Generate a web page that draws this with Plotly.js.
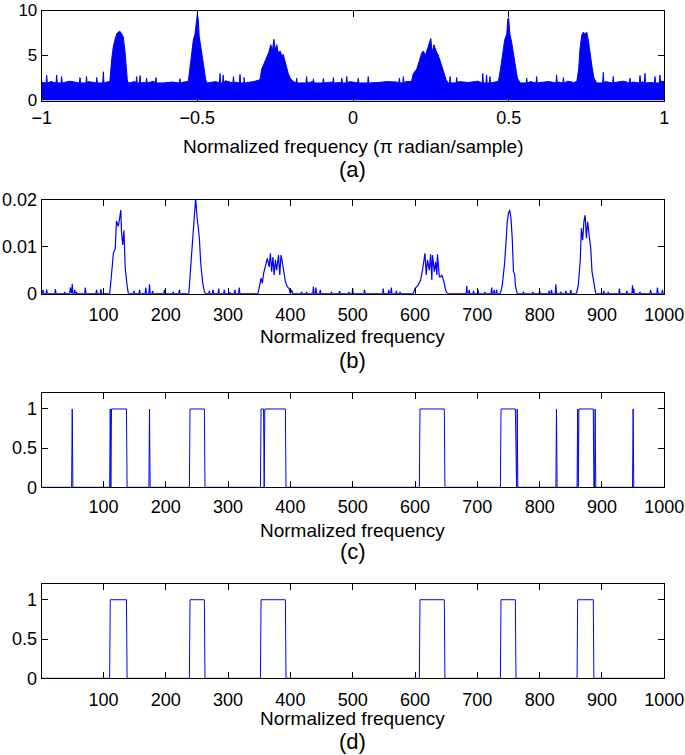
<!DOCTYPE html>
<html>
<head>
<meta charset="utf-8">
<script src="https://cdn.plot.ly/plotly-3.0.1.min.js"></script>
<style>
    body { margin: 0; background: #fff; }
    #plotDiv { width: 685px; height: 755px; }
</style>
</head>
<body>
<div id="plotDiv"></div>
<script>
//--- BEGIN DATA ---------------------------------------------------------------
// (a) spectrum envelope (top of the dense blue area), pi radian/sample
const aFreq = [
    -1.000, -0.970, -0.940, -0.910, -0.880, -0.850, -0.820, -0.790,
    -0.781, -0.775, -0.770, -0.765, -0.759, -0.754, -0.749, -0.743, -0.738, -0.732, -0.729, -0.725, -0.722,
    -0.700, -0.670, -0.640, -0.610, -0.580, -0.550,
    -0.529, -0.524, -0.518, -0.513, -0.508, -0.502, -0.500, -0.497, -0.494, -0.489, -0.484, -0.479, -0.473, -0.470,
    -0.440, -0.410, -0.380, -0.350, -0.320,
    -0.299, -0.293, -0.286, -0.277, -0.271, -0.264, -0.259, -0.254, -0.250, -0.245, -0.240, -0.234, -0.229,
    -0.224, -0.218, -0.213, -0.208, -0.202, -0.192,
    -0.160, -0.130, -0.100, -0.070, -0.040, -0.010, 0.020, 0.050, 0.080, 0.110, 0.140, 0.170,
    0.188, 0.194, 0.205, 0.215, 0.221, 0.226, 0.232, 0.239, 0.245, 0.250, 0.254, 0.260, 0.267, 0.273,
    0.280, 0.286, 0.292, 0.299, 0.306,
    0.340, 0.370, 0.400, 0.430, 0.455,
    0.467, 0.474, 0.481, 0.487, 0.494, 0.497, 0.500, 0.504, 0.510, 0.515, 0.522, 0.528, 0.537,
    0.570, 0.600, 0.630, 0.660, 0.690, 0.710,
    0.719, 0.725, 0.729, 0.735, 0.740, 0.745, 0.751, 0.756, 0.761, 0.768, 0.774, 0.783,
    0.810, 0.840, 0.870, 0.900, 0.930, 0.960, 0.990, 1.000
];
const aMag = [
    2.00, 2.10, 1.95, 2.15, 2.00, 2.10, 1.95, 2.05,
    2.13, 4.6, 6.0, 6.7, 7.4, 7.6, 7.7, 7.4, 7.1, 5.3, 3.5, 2.3, 1.95,
    2.10, 2.00, 2.15, 1.95, 2.05, 2.00,
    2.13, 3.5, 5.7, 6.7, 7.3, 9.2, 9.6, 9.0, 7.1, 6.0, 4.8, 3.5, 2.3, 1.95,
    2.10, 2.20, 2.05, 2.20, 2.10,
    2.30, 3.5, 4.1, 4.8, 5.3, 6.2, 5.5, 6.8, 5.6, 6.2, 5.3, 5.5, 5.0,
    5.1, 4.3, 3.5, 3.0, 2.5, 2.13,
    2.00, 2.10, 1.95, 2.05, 2.00, 2.10, 1.95, 2.05, 2.00, 2.10, 2.05, 2.10,
    2.13, 3.0, 3.5, 4.8, 5.3, 5.5, 5.0, 5.7, 6.4, 6.9, 5.3, 6.2, 5.5, 5.1,
    4.4, 3.7, 3.0, 2.3, 1.95,
    2.10, 2.00, 2.15, 2.10, 2.00,
    2.13, 3.5, 5.0, 6.7, 7.4, 9.0, 9.2, 7.4, 6.4, 5.3, 3.7, 2.5, 1.95,
    2.10, 2.00, 2.10, 2.05, 2.15, 2.00,
    2.13, 3.5, 5.7, 7.3, 7.6, 7.4, 7.6, 6.7, 5.3, 3.7, 2.5, 1.95,
    2.10, 2.00, 2.15, 2.05, 2.10, 2.00, 2.15, 2.10
];
// (a) single tall lines sticking out of the noise floor
const aSpikeFreq = [
    -0.984, -0.952, -0.936, -0.877, -0.856, -0.823, -0.802, -0.695, -0.684, -0.663, -0.633, -0.556,
    -0.427, -0.417, -0.384, -0.363, -0.350, -0.181, -0.149, -0.127, -0.095, -0.063, -0.036, -0.020,
    0.017, 0.049, 0.149, 0.162, 0.312, 0.333, 0.417, 0.429, 0.440, 0.558, 0.590, 0.654,
    0.676, 0.804, 0.836, 0.890, 0.922, 0.938, 0.970, 0.986
];
const aSpikeMag = [
    2.80, 2.84, 2.66, 2.55, 2.66, 2.55, 3.19, 2.66, 2.77, 2.48, 2.55, 2.41,
    3.00, 2.84, 2.66, 2.90, 2.55, 2.48, 2.66, 2.41, 2.48, 2.55, 2.48, 2.66,
    2.48, 2.66, 2.48, 2.66, 2.66, 2.55, 3.00, 2.84, 2.66, 2.48, 2.66, 2.84,
    2.55, 3.12, 2.66, 2.48, 2.77, 3.00, 2.66, 2.84
];

// (b) the six bands
const bBandFreq = [
    110, 112, 116, 119, 121, 124, 126, 128, 129, 131, 133, 135, 138, 140,
    237, 239, 242, 245, 247, 248, 250, 252, 254, 256, 259, 262, 264,
    348, 353, 355, 357, 360, 363, 366, 368, 370, 372, 374, 376, 378, 381, 383, 385, 387, 389, 392, 395, 398, 400, 402, 404,
    597, 600, 605, 609, 612, 614, 616, 618, 620, 623, 625, 627, 628, 631, 633, 635, 636, 639, 641, 643, 645, 647, 649, 652,
    737, 740, 744, 746, 748, 750, 752, 754, 756, 758, 760, 761, 764,
    859, 862, 865, 867, 869, 871, 873, 875, 877, 880, 882, 884, 886, 888, 890
];
const bBandMag = [
    0, 0.0026, 0.0086, 0.0096, 0.0155, 0.0143, 0.0167, 0.0178, 0.0132, 0.0104, 0.0135, 0.0054, 0.0018, 0,
    0, 0.0040, 0.0086, 0.0139, 0.0189, 0.0203, 0.0167, 0.0146, 0.0118, 0.0068, 0.0026, 0.0004, 0,
    0, 0.0033, 0.0022, 0.0043, 0.0057, 0.0075, 0.0057, 0.0086, 0.0047, 0.0078, 0.0040, 0.0072, 0.0050, 0.0082, 0.0040, 0.0082, 0.0068, 0.0047, 0.0026, 0.0015, 0.0011, 0, 0.0008, 0,
    0, 0.0011, 0.0018, 0.0029, 0.0050, 0.0075, 0.0086, 0.0040, 0.0072, 0.0050, 0.0084, 0.0029, 0.0082, 0.0047, 0.0068, 0.0040, 0.0084, 0.0036, 0.0036, 0.0040, 0.0033, 0.0022, 0.0008, 0,
    0, 0.0018, 0.0068, 0.0118, 0.0153, 0.0171, 0.0178, 0.0160, 0.0118, 0.0047, 0.0040, 0.0018, 0,
    0, 0.0018, 0.0068, 0.0139, 0.0114, 0.0153, 0.0167, 0.0118, 0.0153, 0.0118, 0.0096, 0.0047, 0.0033, 0.0018, 0
];
// (b) small noise spikes between the bands
const bNoiseFreq = [
    3, 9, 23, 38, 47, 50, 54, 57, 71, 89, 96, 149, 158, 168, 174, 179, 198, 212, 222, 270, 276, 285, 294,
    303, 311, 318, 418, 426, 437, 441, 448, 466, 479, 494, 500, 519, 549, 558, 562, 570, 576, 683, 687,
    694, 701, 712, 723, 727, 731, 774, 789, 800, 815, 819, 826, 834, 842, 850, 903, 910, 928, 940, 949,
    951, 961, 978, 989, 997
];
const bNoiseMag = [
    0.0008, 0.0009, 0.0010, 0.0004, 0.0013, 0.0021, 0.0008, 0.0004, 0.0013, 0.0008, 0.0010, 0.0006, 0.0008, 0.0013, 0.0020, 0.0006, 0.0008, 0.0004, 0.0008, 0.0006, 0.0008, 0.0011, 0.0008,
    0.0004, 0.0008, 0.0013, 0.0004, 0.0004, 0.0015, 0.0013, 0.0008, 0.0004, 0.0006, 0.0004, 0.0011, 0.0008, 0.0011, 0.0008, 0.0013, 0.0006, 0.0004, 0.0017, 0.0008,
    0.0006, 0.0008, 0.0004, 0.0013, 0.0008, 0.0008, 0.0004, 0.0004, 0.0006, 0.0006, 0.0008, 0.0020, 0.0004, 0.0006, 0.0008, 0.0006, 0.0004, 0.0011, 0.0006, 0.0018,
    0.0011, 0.0004, 0.0008, 0.0013, 0.0008
];

// (c) detected occupied bins: start / end of each run of ones
const cStart = [50, 111, 113, 174, 239, 353, 359, 608, 738, 764, 827, 861, 863, 889, 950];
const cEnd   = [50, 111, 137, 174, 262, 357, 392, 647, 761, 764, 827, 861, 886, 889, 950];

// (d) cleaned decision
const dStart = [111, 239, 353, 608, 738, 861];
const dEnd   = [137, 262, 392, 647, 761, 886];

// tick labels
const aTicks   = [-1, -0.5, 0, 0.5, 1];
const aYTicks  = [0, 5, 10];
const binTicks = [100, 200, 300, 400, 500, 600, 700, 800, 900, 1000];
const bYTicks  = [0, 0.01, 0.02];
const cYTicks  = [0, 0.5, 1];
//--- END DATA -----------------------------------------------------------------

// sorted polyline from base points plus narrow spikes
function with_spikes(baseX, baseY, spikeX, spikeY, halfWidth, spikeBase) {
    let pts = [];
    for (let i = 0; i < baseX.length; i++) pts.push([baseX[i], baseY[i]]);
    for (let i = 0; i < spikeX.length; i++) {
        pts.push([spikeX[i] - halfWidth, spikeBase]);
        pts.push([spikeX[i], spikeY[i]]);
        pts.push([spikeX[i] + halfWidth, spikeBase]);
    }
    pts.sort((p, q) => p[0] - q[0]);
    return { x: pts.map(p => p[0]), y: pts.map(p => p[1]) };
}

// 0/1 line from run starts and ends (bins 1..1000)
function runs_to_line(starts, ends) {
    const x = [1], y = [0];
    for (let i = 0; i < starts.length; i++) {
        x.push(starts[i] - 1, starts[i], ends[i], ends[i] + 1);
        y.push(0, 1, 1, 0);
    }
    x.push(1000);
    y.push(0);
    return { x: x, y: y };
}

const BLUE = 'rgb(0,0,255)';
const FONT = 'Liberation Sans, Arial, Helvetica, sans-serif';

const aLine = with_spikes(aFreq, aMag, aSpikeFreq, aSpikeMag, 0.002, 1.95);
const bLine = with_spikes(bBandFreq, bBandMag, bNoiseFreq, bNoiseMag, 1, 0);
bLine.x.unshift(1); bLine.y.unshift(0);
bLine.x.push(1000); bLine.y.push(0);
const cLine = runs_to_line(cStart, cEnd);
const dLine = runs_to_line(dStart, dEnd);

const traces = [
    { x: aLine.x, y: aLine.y, xaxis: 'x', yaxis: 'y', type: 'scatter', mode: 'lines',
      fill: 'tozeroy', fillcolor: BLUE, line: { color: BLUE, width: 1 } },
    { x: bLine.x, y: bLine.y, xaxis: 'x2', yaxis: 'y2', type: 'scatter', mode: 'lines',
      line: { color: BLUE, width: 1.2 } },
    { x: cLine.x, y: cLine.y, xaxis: 'x3', yaxis: 'y3', type: 'scatter', mode: 'lines',
      line: { color: BLUE, width: 1 } },
    { x: dLine.x, y: dLine.y, xaxis: 'x4', yaxis: 'y4', type: 'scatter', mode: 'lines',
      line: { color: BLUE, width: 1 } }
];

// shared matlab-like box axis
function box_axis(extra) {
    return Object.assign({
        showline: true, mirror: 'ticks', linecolor: '#000', linewidth: 1,
        ticks: 'inside', ticklen: 6, tickcolor: '#000', tickwidth: 1,
        showgrid: false, zeroline: false, fixedrange: true,
        ticklabeloverflow: 'allow',
        tickfont: { family: FONT, size: 18, color: '#000' }
    }, extra);
}

const W = 685, H = 755;
const xDom = [41.7 / W, 664.3 / W];
function yDom(top, bottom) { return [1 - bottom / H, 1 - top / H]; }

// text under each panel
function label(text, ypx, size) {
    return { text: text, xref: 'paper', yref: 'paper', x: 353 / W, y: 1 - ypx / H,
             xanchor: 'center', yanchor: 'middle', showarrow: false,
             font: { family: FONT, size: size, color: '#000' } };
}

const layout = {
    width: W, height: H,
    margin: { l: 0, r: 0, t: 0, b: 0 },
    paper_bgcolor: '#fff', plot_bgcolor: '#fff',
    showlegend: false,
    xaxis:  box_axis({ domain: xDom, anchor: 'y',  range: [-1, 1], tickvals: aTicks, ticklabelstandoff: 1 }),
    yaxis:  box_axis({ domain: yDom(10.5, 100.5), anchor: 'x', range: [0, 10], tickvals: aYTicks,
                       tickfont: { family: FONT, size: 17, color: '#000' } }),
    xaxis2: box_axis({ domain: xDom, anchor: 'y2', range: [1, 1000], tickvals: binTicks, ticklabelstandoff: 5 }),
    yaxis2: box_axis({ domain: yDom(199.7, 293.7), anchor: 'x2', range: [0, 0.02], tickvals: bYTicks }),
    xaxis3: box_axis({ domain: xDom, anchor: 'y3', range: [1, 1000], tickvals: binTicks, ticklabelstandoff: 3 }),
    yaxis3: box_axis({ domain: yDom(393.3, 487.3), anchor: 'x3', range: [0, 1.2], tickvals: cYTicks }),
    xaxis4: box_axis({ domain: xDom, anchor: 'y4', range: [1, 1000], tickvals: binTicks, ticklabelstandoff: 5 }),
    yaxis4: box_axis({ domain: yDom(584, 678.3), anchor: 'x4', range: [0, 1.2], tickvals: cYTicks }),
    annotations: [
        label('Normalized frequency (\u03c0 radian/sample)', 147, 19),
        label('(a)', 169, 22),
        label('Normalized frequency', 337, 19),
        label('(b)', 360, 22),
        label('Normalized frequency', 530, 19),
        label('(c)', 551, 22),
        label('Normalized frequency', 718, 19),
        label('(d)', 741, 22)
    ]
};

Plotly.newPlot('plotDiv', traces, layout, { staticPlot: true, displayModeBar: false });
</script>
</body>
</html>
